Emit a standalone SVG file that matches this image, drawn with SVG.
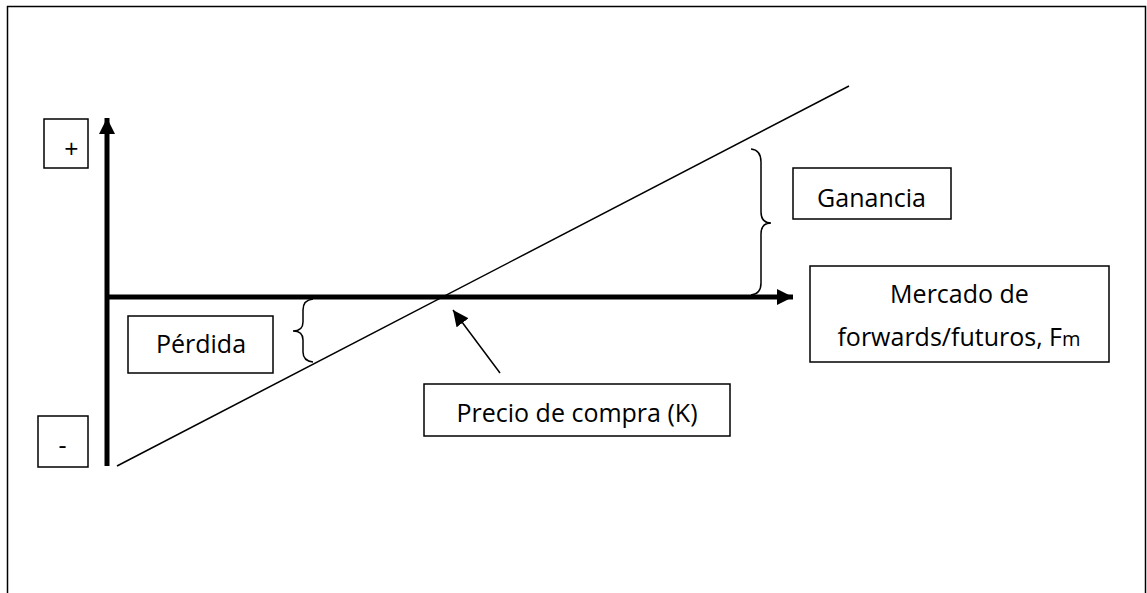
<svg xmlns="http://www.w3.org/2000/svg" width="1147" height="593" viewBox="0 0 1147 593">
<defs>
<style>
.box{fill:#fff;stroke:#000;stroke-width:1.5}
.t{font-family:"Open Sans","Liberation Sans",sans-serif;font-size:25px;fill:#000;text-anchor:middle}
.axis{stroke:#000;stroke-width:5;fill:none}
.thin{stroke:#000;stroke-width:1.5;fill:none}
</style>
<marker id="ah" viewBox="0 0 10 10" refX="10" refY="5" markerWidth="3.2" markerHeight="3.2" orient="auto" markerUnits="strokeWidth"><path d="M0,0 L10,5 L0,10 z" fill="#000"/></marker>
<marker id="ah2" viewBox="0 0 10 10" refX="10" refY="5" markerWidth="16" markerHeight="15" orient="auto" markerUnits="userSpaceOnUse" preserveAspectRatio="none"><path d="M0,0 L10,5 L0,10 z" fill="#000"/></marker>
</defs>
<rect x="7.5" y="6.5" width="1138" height="600" fill="#fff" stroke="#000" stroke-width="1.5"/>
<g id="connectors">
<line class="axis" x1="107" y1="466" x2="107" y2="118" marker-end="url(#ah)"/>
<line class="axis" x1="105" y1="297" x2="793" y2="297" marker-end="url(#ah)"/>
<line class="thin" x1="117" y1="466" x2="849" y2="86"/>
<line class="thin" x1="500" y1="373" x2="453" y2="310" marker-end="url(#ah2)"/>
<path class="thin" d="M751,149 Q761,150 761,162 L761,212 Q761,223 771,223 Q761,223 761,234 L761,283 Q761,294 751,295"/>
<path class="thin" d="M313,299 Q303,300 303,310 L303,322 Q303,331 293,331 Q303,331 303,340 L303,352 Q303,361 313,362"/>
</g>
<g id="plus"><rect class="box" x="44" y="119" width="44" height="49"/><text class="t" x="71.5" y="158">+</text></g>
<g id="minus"><rect class="box" x="38" y="416" width="50" height="51"/><text class="t" x="62.5" y="454">-</text></g>
<g id="perdida"><rect class="box" x="128" y="316" width="145" height="57"/><text class="t" x="201" y="353">Pérdida</text></g>
<g id="ganancia"><rect class="box" x="793" y="168" width="158" height="51"/><text class="t" x="871.5" y="207">Ganancia</text></g>
<g id="mercado"><rect class="box" x="810" y="266" width="299" height="96"/><text class="t" x="959.5" y="303">Mercado de</text><text class="t" x="959" y="346">forwards/futuros, F<tspan style="font-size:20px">m</tspan></text></g>
<g id="precio"><rect class="box" x="424" y="384" width="306" height="52"/><text class="t" x="577" y="422">Precio de compra (K)</text></g>
</svg>
